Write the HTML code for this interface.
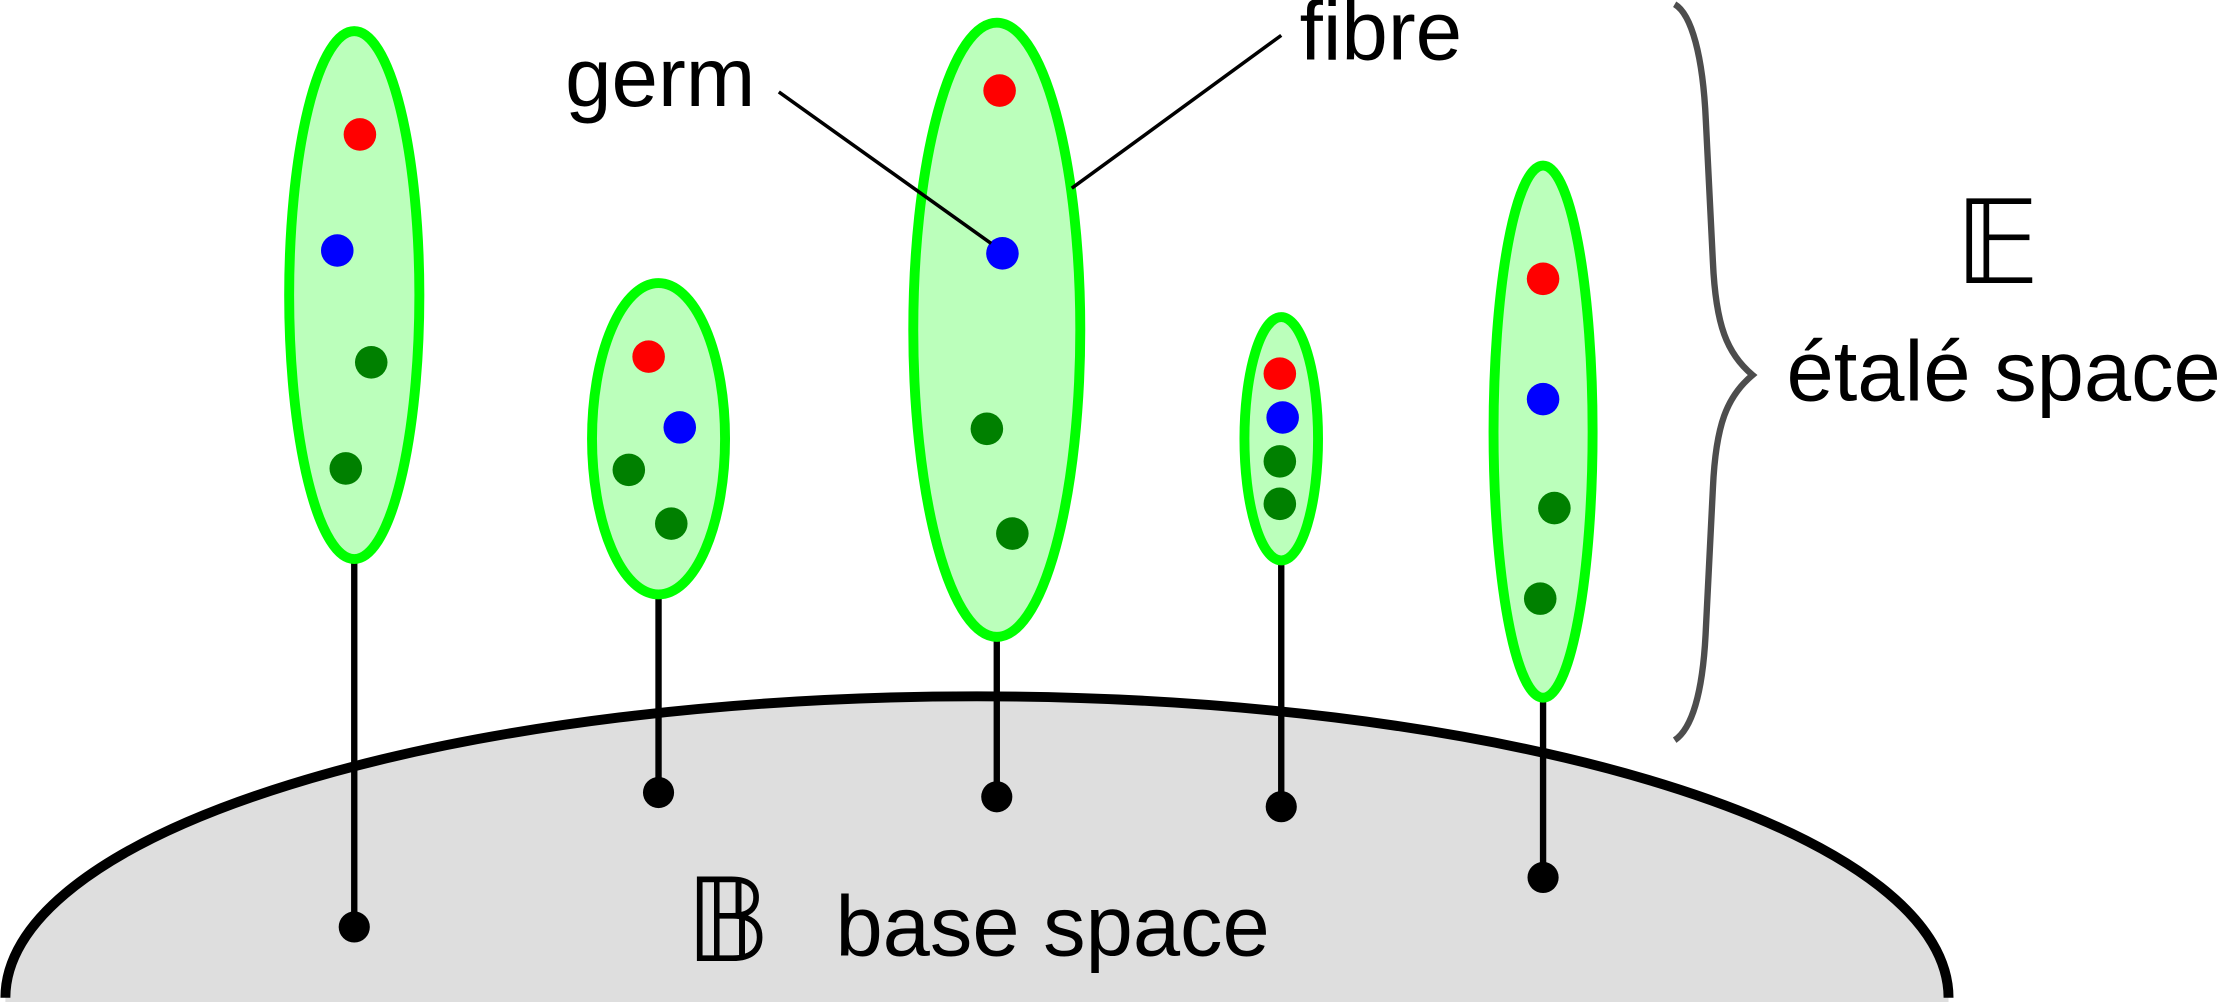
<!DOCTYPE html>
<html><head><meta charset="utf-8"><style>
html,body{margin:0;padding:0;background:#fff;width:2220px;height:1002px;overflow:hidden}
svg{display:block;overflow:hidden}
text{font-family:"Liberation Sans","DejaVu Sans",sans-serif;fill:#000}
</style></head><body>
<svg id="fig" width="2220" height="1002" viewBox="0 0 1568 708" xmlns="http://www.w3.org/2000/svg">
<path d="M3.5,705 A686.5,213 0 0 1 1376.5,705 L1376.5,708 L3.5,708 Z" fill="#dedede"/>
<path d="M3.5,705 A686.5,213 0 0 1 1376.5,705" fill="none" stroke="#000" stroke-width="7"/>
<g id="fibres"></g>
<line x1="550" y1="65" x2="700" y2="172" stroke="#000" stroke-width="2.5"/>
<line x1="905" y1="25" x2="757" y2="133" stroke="#000" stroke-width="2.5"/>
<text x="399" y="75" font-size="59">germ</text>
<text x="918" y="42" font-size="59">fibre</text>
<path d="M1183,3 C1195,10 1203,40 1205,85 L1210,185 C1212,230 1220,250 1238,265 C1220,280 1212,300 1210,345 L1205,445 C1203,490 1195,515 1183,523" fill="none" stroke="#4d4d4d" stroke-width="4.5"/>
<text x="1411" y="200" font-size="82" font-family="DejaVu Serif, serif" text-anchor="middle">𝔼</text>
<text x="1262" y="283" font-size="60">étalé space</text>
<text x="514" y="679" font-size="82" font-family="DejaVu Serif, serif" text-anchor="middle">𝔹</text>
<text x="590" y="675" font-size="60">base space</text>
</svg>
<script>
const fibreCx=[250,465,704,905,1090];
const fibreTop=[22,200,16,224,117];
const fibreBottom=[395,420,450,396,493];
const fibreRx=[46,47,59,26,35];
const baseY=[655,560,563,570,620];
const redDots=[[254,95],[458,252],[706,64],[904,264],[1090,197]];
const blueDots=[[238,177],[480,302],[708,179],[906,295],[1090,282]];
const greenDots=[[[262,256],[244,331]],[[444,332],[474,370]],[[697,303],[715,377]],[[904,326],[904,356]],[[1098,359],[1088,423]]];
const NS="http://www.w3.org/2000/svg";
const g=document.getElementById('fibres');
function mk(t,a){const e=document.createElementNS(NS,t);for(const k in a)e.setAttribute(k,a[k]);g.appendChild(e);return e;}
for(let i=0;i<fibreCx.length;i++){
  const s=mk('line',{x1:fibreCx[i],y1:fibreBottom[i],x2:fibreCx[i],y2:baseY[i],stroke:'#000','stroke-width':4.5});
  
  
  const b=mk('circle',{cx:fibreCx[i],cy:baseY[i],r:11,fill:'#000'});
  
  
  const e=mk('ellipse',{cx:fibreCx[i],cy:(fibreTop[i]+fibreBottom[i])/2,rx:fibreRx[i],ry:(fibreBottom[i]-fibreTop[i])/2,fill:'#bbffbb',stroke:'#00ff00','stroke-width':7});
  
  
  const r=mk('circle',{cx:redDots[i][0],cy:redDots[i][1],r:11.5,fill:'#ff0000'});
  
  
  const bl=mk('circle',{cx:blueDots[i][0],cy:blueDots[i][1],r:11.5,fill:'#0000ff'});
  
  
  for(const d of greenDots[i]){
    const c=mk('circle',{cx:d[0],cy:d[1],r:11.5,fill:'#008000'});
    
    
  }
}
</script>
</body></html>
